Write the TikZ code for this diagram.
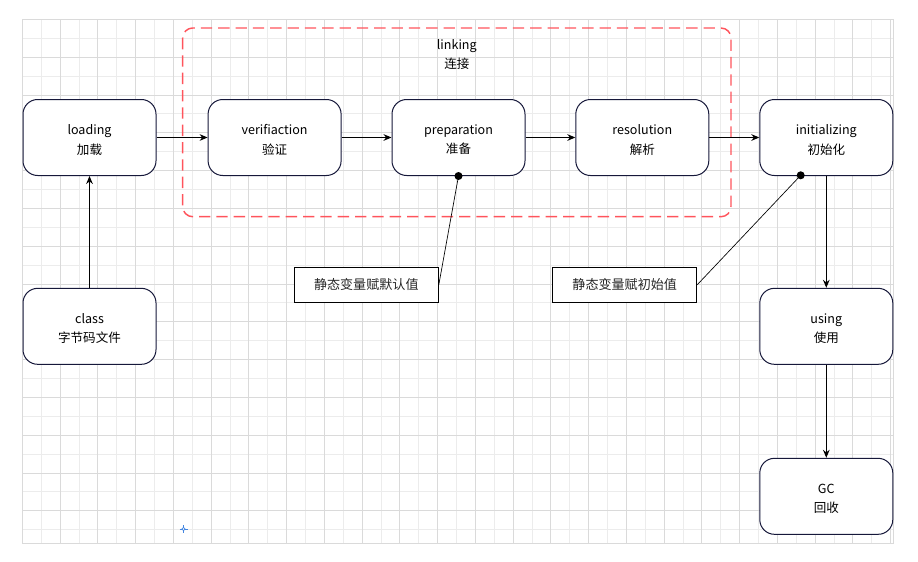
\documentclass[tikz,border=0pt]{standalone}
\usepackage{fontspec}
\setmainfont{Noto Sans CJK SC}
\usetikzlibrary{arrows.meta}
\definecolor{boxline}{RGB}{22,24,58}
\definecolor{linkred}{RGB}{255,84,92}
\definecolor{gridmajor}{RGB}{218,218,218}
\definecolor{gridminor}{RGB}{236,236,236}
\definecolor{markblue}{RGB}{66,133,224}

\begin{document}
\begin{tikzpicture}[x=0.75pt,y=-0.75pt,
    stagetext/.style={align=center,inner sep=0pt,yshift=-1.8pt,
      font=\fontsize{9.4}{14.5}\selectfont},
    stage/.style={draw=boxline,line width=0.75pt,fill=white,rounded corners=11pt,
      minimum width=99.75pt,minimum height=57pt,inner sep=0pt,
      label={[stagetext]center:{#1}}},
    note/.style={draw=black,line width=0.75pt,fill=white,
      minimum width=108pt,minimum height=26.25pt,inner sep=0pt,
      text=black!85,font=\fontsize{9.8}{11}\selectfont},
    flow/.style={line width=0.75pt,-{Stealth[length=6pt,width=5pt]}},
    hint/.style={line width=0.5pt}]
  \useasboundingbox (0,0) rectangle (918,561);
  % background grid
  \foreach \i in {0,...,46}
    \draw[gridminor,line width=0.6pt] ({22.3+\i*18.875},19.3) -- ({22.3+\i*18.875},543.3);
  \foreach \j in {0,...,27}
    \draw[gridminor,line width=0.6pt] (22.3,{19.3+\j*18.9}) -- (893.3,{19.3+\j*18.9});
  \foreach \i in {0,2,...,46}
    \draw[gridmajor,line width=0.6pt] ({22.3+\i*18.875},19.3) -- ({22.3+\i*18.875},543.3);
  \foreach \j in {0,2,...,26}
    \draw[gridmajor,line width=0.6pt] (22.3,{19.3+\j*18.9}) -- (893.3,{19.3+\j*18.9});
  \draw[gridmajor,line width=0.75pt] (22.3,19.3) rectangle (893.3,543.3);
  % blue marker
  \draw[markblue,line width=0.6pt] (179.5,529) -- (187.5,529) (183.5,525) -- (183.5,533);
  \draw[markblue,line width=0.5pt,fill=white] (183.5,529) circle (1.2pt);

  % linking group
  \draw[linkred,line width=1.1pt,dash pattern=on 8.5pt off 4.5pt,rounded corners=7.5pt]
    (182.7,28) rectangle (731,216.7);
  \node (linking) at (456.8,54.5) [align=center,font=\fontsize{9.4}{14.5}\selectfont] {linking\\连接};

  % stages
  \node[stage={loading\\加载}] (loading) at (89.5,137.5) {};
  \node[stage={verifiaction\\验证}] (verify) at (274.6,137.5) {};
  \node[stage={preparation\\准备}] (prep) at (458.5,137.5) {};
  \node[stage={resolution\\解析}] (resol) at (642.3,137.5) {};
  \node[stage={initializing\\初始化}] (init) at (826.3,137.5) {};
  \node[stage={using\\使用}] (using) at (826.3,326.3) {};
  \node[stage={GC\\回收}] (gc) at (826.3,496.3) {};
  \node[stage={class\\字节码文件}] (class) at (89.5,326.3) {};

  % notes
  \node[note] (defval) at (366.3,284.8) {静态变量赋默认值};
  \node[note] (initval) at (624.7,284.8) {静态变量赋初始值};
  \coordinate (initdot) at (800.7,175.3);

  \draw[flow] (class) -- (loading);
  \draw[flow] (loading) -- (verify);
  \draw[flow] (verify) -- (prep);
  \draw[flow] (prep) -- (resol);
  \draw[flow] (resol) -- (init);
  \draw[flow] (init) -- (using);
  \draw[flow] (using) -- (gc);

  \draw[hint] (defval.east) -- (prep.south);
  \fill (prep.south) circle (3pt);
  \draw[hint] (initval.east) -- (initdot);
  \fill (initdot) circle (3pt);
\end{tikzpicture}
\end{document}
